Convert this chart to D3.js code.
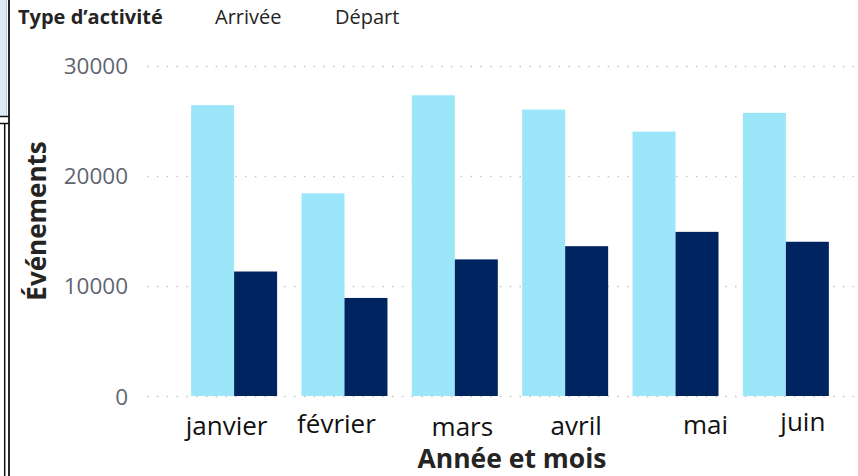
<!DOCTYPE html>
<html><head><meta charset="utf-8">
<script src="https://cdn.jsdelivr.net/npm/d3@7"></script>
<style>
html,body{margin:0;padding:0;background:#fff;}
svg{display:block;font-family:"Open Sans","Noto Sans",sans-serif;}
</style></head>
<body>
<script>
const months = ["janvier","février","mars","avril","mai","juin"];
const seriesNames = ["Arrivée","Départ"];
const arrivee = [26400, 18400, 27300, 26000, 24000, 25700];
const depart = [11300, 8900, 12400, 13600, 14900, 14000];
const yTicks = [0, 10000, 20000, 30000];
const colors = ["#9BE6F9", "#002460"];
// hand-placed category labels in the reference: offsets from band centre
const labelDx = [-7.5, -8, 7.5, 11, 30, 17];
const labelBaseline = [39, 37, 40, 39, 38, 35];

const W = 858, H = 476;
const svg = d3.select("body").append("svg").attr("width", W).attr("height", H);

// left frame decorations
svg.append("rect").attr("x", -1).attr("y", -1).attr("width", 7.5).attr("height", 117.5)
  .attr("fill", "#dfe9f5").attr("stroke", "#b8c9dc").attr("stroke-width", 1);
svg.append("line").attr("x1", 0).attr("x2", 9).attr("y1", 116.5).attr("y2", 116.5).attr("stroke", "#111").attr("stroke-width", 1.5);
svg.append("line").attr("x1", 0).attr("x2", 9).attr("y1", 123.5).attr("y2", 123.5).attr("stroke", "#111").attr("stroke-width", 1.5);
svg.append("line").attr("x1", 9).attr("x2", 9).attr("y1", 0).attr("y2", H).attr("stroke", "#111").attr("stroke-width", 1.8);
svg.append("line").attr("x1", 4.7).attr("x2", 4.7).attr("y1", 123).attr("y2", H).attr("stroke", "#111").attr("stroke-width", 1.5);

const y = d3.scaleLinear().domain([0, 30000]).range([396, 65.5]);
const x = d3.scaleBand().domain(months).range([147, 873]).paddingInner(0.221).paddingOuter(0.4);
const xs = d3.scaleBand().domain(seriesNames).range([0, x.bandwidth()]);

// gridlines
svg.append("g").selectAll("line").data(yTicks).join("line")
  .attr("x1", 147).attr("x2", W).attr("y1", d => Math.round(y(d)) + 0.5).attr("y2", d => Math.round(y(d)) + 0.5)
  .attr("stroke", "#c8c8c8").attr("stroke-width", 1.6).attr("stroke-dasharray", "1.6,8.2");

// y axis
const yAxis = d3.axisLeft(y).tickValues(yTicks).tickSize(0).tickPadding(0).tickFormat(d3.format("d"));
const gy = svg.append("g").attr("transform", "translate(128,0)").call(yAxis);
gy.select(".domain").remove();
gy.selectAll("text").attr("font-size", 22.5).attr("fill", "#5f6670").attr("font-family", "'Open Sans',sans-serif").attr("dy", "0.36em");

// bars
const data = months.map((m, i) => ({m, vals: [arrivee[i], depart[i]]}));
const groups = svg.append("g").selectAll("g").data(data).join("g")
  .attr("transform", d => `translate(${x(d.m)},0)`);
groups.selectAll("rect").data(d => d.vals.map((v, j) => ({s: seriesNames[j], v, j}))).join("rect")
  .attr("x", d => xs(d.s)).attr("width", xs.bandwidth())
  .attr("y", d => y(d.v)).attr("height", d => y(0) - y(d.v))
  .attr("fill", d => colors[d.j]);

// x axis labels
const xAxis = d3.axisBottom(x).tickSize(0).tickPadding(0);
const gx = svg.append("g").attr("transform", "translate(0,396)").call(xAxis);
gx.select(".domain").remove();
gx.selectAll("text").attr("font-size", 26).attr("fill", "#111").attr("font-family", "'Open Sans',sans-serif")
  .attr("dy", null).attr("x", (d, i) => labelDx[i]).attr("y", (d, i) => labelBaseline[i]);

// axis titles
svg.append("text").attr("x", 512).attr("y", 468).attr("text-anchor", "middle")
  .attr("font-size", 26.5).attr("font-weight", "bold").attr("fill", "#252423").text("Année et mois");
svg.append("text").attr("transform", "translate(46,221) rotate(-90)").attr("text-anchor", "middle")
  .attr("font-size", 26).attr("font-weight", "bold").attr("fill", "#252423").text("Événements");

// legend
svg.append("text").attr("x", 18).attr("y", 24).attr("font-size", 20).attr("font-weight", "bold").attr("fill", "#252423").text("Type d’activité");
const legX = [215, 335];
svg.append("g").selectAll("text").data(seriesNames).join("text")
  .attr("x", (d, i) => legX[i]).attr("y", 24).attr("font-size", 20).attr("fill", "#252423").text(d => d);
</script>
</body></html>
